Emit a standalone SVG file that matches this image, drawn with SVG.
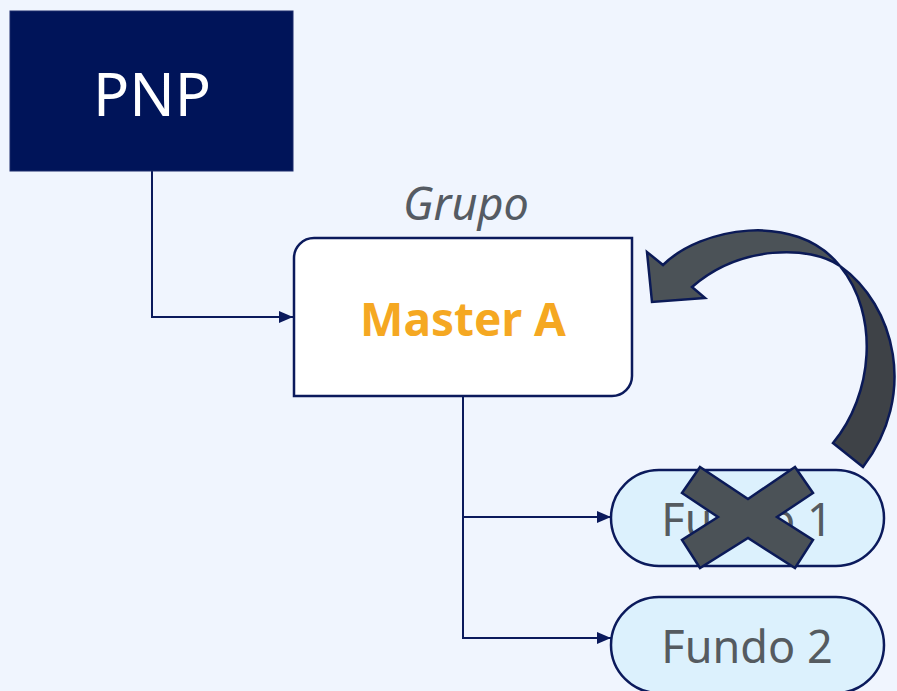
<svg xmlns="http://www.w3.org/2000/svg" width="897" height="691" viewBox="0 0 897 691">
<defs>
<marker id="ah" markerWidth="14" markerHeight="12" refX="14" refY="6" orient="auto" markerUnits="userSpaceOnUse">
<path d="M0,0 L14,6 L0,12 Z" fill="#0b1a5c"/>
</marker>
<style>
.conn{fill:none;stroke:#0b1a5c;stroke-width:2}
.pill{fill:#dcf1fd;stroke:#0b1a5c;stroke-width:2.5}
.ftxt{font-family:"Noto Sans","Open Sans",sans-serif;font-size:45px;fill:#555b60;text-anchor:middle}
.mark{stroke:#0b1a57;stroke-width:2.5;stroke-linejoin:miter}
</style>
</defs>
<rect width="897" height="691" fill="#f0f5fe"/>
<g id="connectors">
<path class="conn" d="M152,171 V317 H293" marker-end="url(#ah)"/>
<path class="conn" d="M463,396 V638 H611" marker-end="url(#ah)"/>
<path class="conn" d="M463,517 H611" marker-end="url(#ah)"/>
</g>
<g id="pnp">
<rect x="10" y="11" width="283" height="160" fill="#001459" stroke="#1a2a6a" stroke-width="1"/>
<text x="152" y="116" font-family="Noto Sans,Open Sans,sans-serif" font-size="60" fill="#ffffff" text-anchor="middle">PNP</text>
</g>
<g id="grupo-label">
<text x="466" y="220" font-family="Noto Sans,Open Sans,sans-serif" font-size="45" font-style="italic" fill="#555b63" text-anchor="middle">Grupo</text>
</g>
<g id="master-a">
<path d="M314,238 H632 V376 A20,20 0 0 1 612,396 H294 V258 A20,20 0 0 1 314,238 Z" fill="#ffffff" stroke="#0b1a5c" stroke-width="2.5"/>
<text x="463" y="336" font-family="Noto Sans,Open Sans,sans-serif" font-size="46" font-weight="bold" fill="#f5a822" text-anchor="middle">Master A</text>
</g>
<g id="fundo-1">
<rect class="pill" x="611" y="470" width="273" height="96" rx="48"/>
<text class="ftxt" x="747" y="536">Fundo 1</text>
</g>
<g id="fundo-2">
<rect class="pill" x="611" y="597" width="273" height="96" rx="48"/>
<text class="ftxt" x="747" y="663">Fundo 2</text>
</g>
<g id="cross">
<polygon class="mark" fill="#4b5257" points="700,467 748,499 795,467 813,493 777,517 813,540 795,568 748,538 700,568 682,540 718,517 682,493"/>
</g>
<g id="curved-arrow">
<path class="mark" fill="#3e4247" d="M840,266 C895,305 918,395 863,467 L833,443 C873,395 880,315 840,266 Z"/>
<path class="mark" fill="#4b5257" d="M663,265 C700,228 795,210 840,266 C810,245 740,245 692,287 L705,298 L652,302 L647,252 Z"/>
</g>
</svg>
